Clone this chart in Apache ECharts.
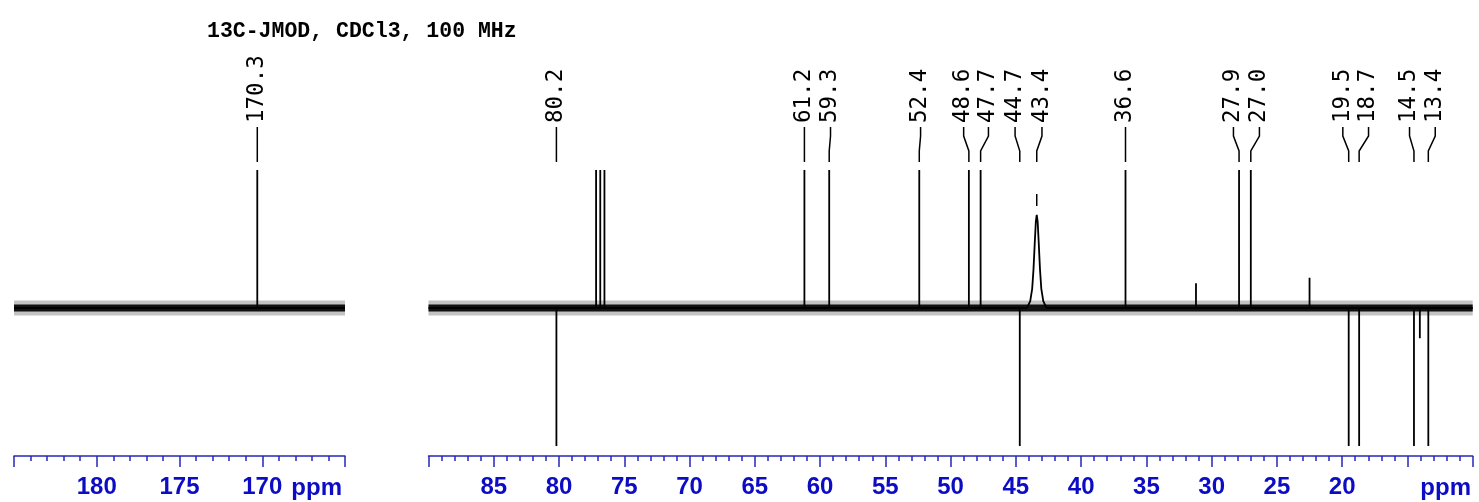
<!DOCTYPE html>
<html>
<head>
<meta charset="utf-8">
<script src="https://cdn.jsdelivr.net/npm/echarts@6/dist/echarts.min.js"></script>
<style>
html, body { margin: 0; background: #fff; }
#nmr { width: 1479px; height: 502px; }
</style>
</head>
<body>
<div id="nmr"></div>
<script>
var specTitle = '13C-JMOD, CDCl3, 100 MHz';

// left window (carbonyl region)
var leftRange = [165, 185];
var leftTickLabels = [180, 175, 170];
var leftPeaks = [170.3];
var leftHeights = [1.6];
var leftLabels = ['170.3'];
var leftLabelPeak = [170.3];
var leftLabelAt = [170.3];

// right window (aliphatic region)
var rightRange = [10, 90];
var rightTickLabels = [85, 80, 75, 70, 65, 60, 55, 50, 45, 40, 35, 30, 25, 20];
var rightPeaks = [80.2, 77.16, 76.84, 76.52, 61.2, 59.3, 52.4, 48.6, 47.7, 44.7, 36.6, 31.2, 27.9, 27.0, 22.5, 19.5, 18.7, 14.5, 14.05, 13.4];
var rightHeights = [-1.6, 1.6, 1.6, 1.6, 1.6, 1.6, 1.6, 1.6, 1.6, -1.6, 1.6, 0.18, 1.6, 1.6, 0.22, -1.6, -1.6, -1.6, -0.22, -1.6];

// broad signal at 43.4 ppm
var broadCenter = 43.4;
var broadOffsets = [0.75, 0.5, 0.35, 0.25, 0.15, 0.07, 0, -0.07, -0.15, -0.25, -0.35, -0.5, -0.75];
var broadHeights = [0, 0.05, 0.14, 0.28, 0.48, 0.63, 0.68, 0.63, 0.48, 0.28, 0.14, 0.05, 0];

// peak labels: text, peak it points to, where the label sits
var rightLabels = ['80.2', '61.2', '59.3', '52.4', '48.6', '47.7', '44.7', '43.4', '36.6', '27.9', '27.0', '19.5', '18.7', '14.5', '13.4'];
var rightLabelPeak = [80.2, 61.2, 59.3, 52.4, 48.6, 47.7, 44.7, 43.4, 36.6, 27.9, 27.0, 19.5, 18.7, 14.5, 13.4];
var rightLabelAt = [80.2, 61.2, 59.2, 52.3, 49.0, 47.1, 45.06, 43.0, 36.6, 28.33, 26.34, 19.95, 17.98, 14.84, 12.87];

var BLUE = '#2626b8';
var LABEL_BLUE = '#0c0cc4';

// build stick spectrum, high ppm first
function buildSpectrum(range, peaks, heights, broad) {
    var groups = [];
    peaks.forEach(function (p, i) {
        groups.push({ at: p, pts: [[p, 0], [p, heights[i]], [p, 0]] });
    });
    if (broad) {
        groups.push({
            at: broad.center,
            pts: broad.offsets.map(function (o, i) { return [broad.center + o, broad.heights[i]]; })
        });
    }
    groups.sort(function (a, b) { return b.at - a.at; });
    var data = [[range[1], 0]];
    groups.forEach(function (g) { data = data.concat(g.pts); });
    data.push([range[0], 0]);
    return data;
}

function ppmAxis(gridIndex, range, labels) {
    return {
        type: 'value',
        gridIndex: gridIndex,
        inverse: true,
        min: range[0],
        max: range[1],
        interval: 5,
        offset: 11,
        axisLine: { show: true, onZero: false, lineStyle: { color: BLUE, width: 1.5 } },
        axisTick: { show: true, length: 11, lineStyle: { color: BLUE, width: 1.5 } },
        minorTick: { show: true, splitNumber: 5, length: 5, lineStyle: { color: BLUE, width: 1.5 } },
        splitLine: { show: false },
        minorSplitLine: { show: false },
        axisLabel: {
            margin: 19,
            color: LABEL_BLUE,
            fontFamily: 'Liberation Sans',
            fontWeight: 'bold',
            fontSize: 24,
            showMinLabel: true,
            showMaxLabel: true,
            formatter: function (v) { return labels.indexOf(v) >= 0 ? String(v) : ''; }
        }
    };
}

function hiddenY(gridIndex) {
    return { type: 'value', gridIndex: gridIndex, min: -1, max: 1, show: false };
}

// label text + connector drawn above the plot
function labelRenderer(labels, peaks, at) {
    return function (params, api) {
        var i = params.dataIndex;
        var xp = api.coord([peaks[i], 0])[0];
        var xl = api.coord([at[i], 0])[0];
        var top = params.coordSys.y;
        var kids = [
            {
                type: 'polyline',
                shape: { points: [[xl, top - 44], [xl, top - 35], [xp, top - 20], [xp, top - 9]] },
                style: { stroke: '#000', lineWidth: 1.5, fill: null }
            },
            {
                type: 'text',
                x: xl,
                y: top - 48,
                rotation: Math.PI / 2,
                style: {
                    text: labels[i],
                    font: '22.5px "DejaVu Sans Mono"',
                    fill: '#000',
                    align: 'left',
                    verticalAlign: 'middle'
                }
            }
        ];
        if (peaks[i] === broadCenter) {
            kids.push({
                type: 'line',
                shape: { x1: xp, y1: top + 23, x2: xp, y2: top + 35 },
                style: { stroke: '#000', lineWidth: 1.5 }
            });
        }
        return { type: 'group', children: kids };
    };
}

function bandSeries(idx, range, width, opacity) {
    return {
        type: 'line', xAxisIndex: idx, yAxisIndex: idx,
        data: [[range[1], 0], [range[0], 0]],
        symbol: 'none', silent: true,
        lineStyle: { color: '#111', width: width, opacity: opacity }
    };
}

var dom = document.getElementById('nmr');
var myChart = echarts.init(dom);

var option = {
    animation: false,
    backgroundColor: '#fff',
    title: {
        text: specTitle,
        left: 207,
        top: 21,
        padding: 0,
        textStyle: { fontFamily: 'Liberation Mono', fontWeight: 'bold', fontSize: 21.5, color: '#000' }
    },
    grid: [
        { left: 14, width: 331, top: 171, height: 274 },
        { left: 428.5, width: 1044.2, top: 171, height: 274 }
    ],
    xAxis: [ppmAxis(0, leftRange, leftTickLabels), ppmAxis(1, rightRange, rightTickLabels)],
    yAxis: [hiddenY(0), hiddenY(1)],
    graphic: [
        { type: 'text', x: 342, y: 488, style: { text: 'ppm', font: 'bold 24px "Liberation Sans"', fill: LABEL_BLUE, align: 'right', verticalAlign: 'middle' } },
        { type: 'text', x: 1471, y: 488, style: { text: 'ppm', font: 'bold 24px "Liberation Sans"', fill: LABEL_BLUE, align: 'right', verticalAlign: 'middle' } }
    ],
    series: [
        bandSeries(0, leftRange, 15, 0.25),
        bandSeries(0, leftRange, 7, 1),
        bandSeries(1, rightRange, 15, 0.25),
        bandSeries(1, rightRange, 7, 1),
        {
            type: 'line', xAxisIndex: 0, yAxisIndex: 0,
            data: buildSpectrum(leftRange, leftPeaks, leftHeights, null),
            symbol: 'none', clip: true,
            lineStyle: { color: '#000', width: 1.8 }
        },
        {
            type: 'line', xAxisIndex: 1, yAxisIndex: 1,
            data: buildSpectrum(rightRange, rightPeaks, rightHeights,
                { center: broadCenter, offsets: broadOffsets, heights: broadHeights }),
            symbol: 'none', clip: true,
            lineStyle: { color: '#000', width: 1.8 }
        },
        {
            type: 'custom', xAxisIndex: 0, yAxisIndex: 0,
            data: leftLabelPeak.map(function (p, i) { return [p, leftLabelAt[i]]; }),
            encode: { x: [0, 1] },
            renderItem: labelRenderer(leftLabels, leftLabelPeak, leftLabelAt),
            clip: false, silent: true
        },
        {
            type: 'custom', xAxisIndex: 1, yAxisIndex: 1,
            data: rightLabelPeak.map(function (p, i) { return [p, rightLabelAt[i]]; }),
            encode: { x: [0, 1] },
            renderItem: labelRenderer(rightLabels, rightLabelPeak, rightLabelAt),
            clip: false, silent: true
        }
    ]
};

if (option && typeof option === 'object') {
    myChart.setOption(option, true);
}
</script>
</body>
</html>
